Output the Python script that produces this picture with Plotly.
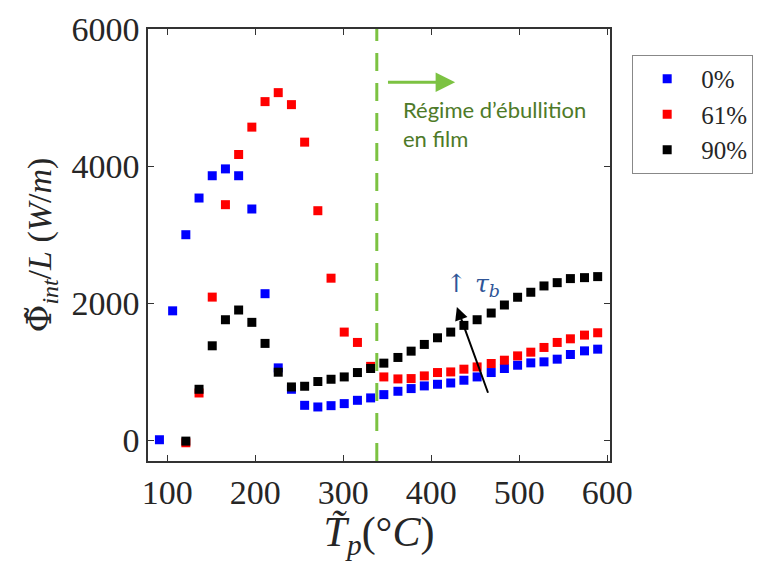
import plotly.graph_objects as go

# ---- data ----
T_blue = [91, 106, 121, 136, 151, 166, 181, 196, 211, 226, 241, 256, 271, 286, 301, 316, 331,
          346, 362, 377, 392, 407, 422, 437, 452, 468, 483, 498, 513, 528, 543, 558, 574, 589]
phi_0 = [10, 1890, 3000, 3535, 3860, 3960, 3860, 3375, 2140, 1058, 746, 512, 488, 507, 537, 585, 620,
         668, 717, 756, 795, 819, 838, 878, 926, 990, 1049, 1097, 1131, 1146, 1185, 1253, 1306, 1331]

T_red = [121, 136, 151, 166, 181, 196, 211, 226, 241, 256, 271, 286, 301, 316, 331,
         346, 362, 377, 392, 407, 422, 437, 452, 468, 483, 498, 513, 528, 543, 558, 574, 589]
phi_61 = [-34, 692, 2090, 3438, 4170, 4569, 4941, 5072, 4897, 4350, 3350, 2366, 1580, 1429, 1080,
          926, 897, 902, 941, 990, 999, 1039, 1072, 1122, 1170, 1233, 1287, 1356, 1429, 1482, 1536, 1570]

T_black = [121, 136, 151, 166, 181, 196, 211, 226, 241, 256, 271, 286, 301, 316, 331,
           346, 362, 377, 392, 407, 422, 437, 452, 468, 483, 498, 513, 528, 543, 558, 574, 589]
phi_90 = [-10, 746, 1380, 1760, 1902, 1722, 1415, 995, 780, 790, 859, 892, 926, 990, 1049,
          1127, 1210, 1302, 1400, 1497, 1580, 1678, 1760, 1858, 1975, 2088, 2161, 2253, 2301, 2360, 2374, 2389]

series_names = ["0%", "61%", "90%"]
x_ticks = [100, 200, 300, 400, 500, 600]
y_ticks = [0, 2000, 4000, 6000]

T_film = 338                      # onset of film boiling (dashed line)
film_arrow = (349, 427, 5222)     # x0, x1, y of green arrow
film_text = (365, 4620)
tau_arrow = (465, 673, 429, 1946)  # tail x,y -> head x,y
tau_text = (447, 2265)

SERIF = "Liberation Serif, Times New Roman, serif"
TXT = "#262626"

fig = go.Figure()
for xs, ys, name, col in [(T_blue, phi_0, series_names[0], "#0000ff"),
                          (T_red, phi_61, series_names[1], "#ff0000"),
                          (T_black, phi_90, series_names[2], "#000000")]:
    fig.add_trace(go.Scatter(x=xs, y=ys, mode="markers", name=name,
                             marker=dict(symbol="square", size=9, color=col, line=dict(width=0))))

fig.add_shape(type="line", x0=T_film, x1=T_film, yref="paper", y0=0, y1=1,
              line=dict(color="#7cc242", width=3, dash="18px,12px"))

fig.add_annotation(x=film_arrow[1], y=film_arrow[2], ax=film_arrow[0], ay=film_arrow[2],
                   xref="x", yref="y", axref="x", ayref="y", text="",
                   showarrow=True, arrowhead=2, arrowsize=1.3, arrowwidth=3, arrowcolor="#7cc242")
fig.add_annotation(x=film_text[0], y=film_text[1], xref="x", yref="y",
                   text="Régime d’ébullition<br>en film", showarrow=False,
                   xanchor="left", yanchor="middle", align="left",
                   font=dict(family="Lato, Open Sans, sans-serif", size=22, color="#4e7a28"))

fig.add_annotation(x=tau_arrow[2], y=tau_arrow[3], ax=tau_arrow[0], ay=tau_arrow[1],
                   xref="x", yref="y", axref="x", ayref="y", text="",
                   showarrow=True, arrowhead=2, arrowsize=1.3, arrowwidth=2, arrowcolor="#000000")
fig.add_annotation(x=tau_text[0], y=tau_text[1], xref="x", yref="y",
                   text="↑ <i>τ</i><sub><i>b</i></sub>", showarrow=False,
                   xanchor="center", yanchor="middle",
                   font=dict(family="DejaVu Serif, serif", size=25, color="#2f5597"))

axis_common = dict(showline=True, linecolor="#333333", linewidth=1.5, mirror="ticks",
                   ticks="inside", ticklen=6, tickcolor="#333333", showgrid=False, zeroline=False,
                   tickfont=dict(family=SERIF, size=34, color=TXT), automargin=False)

fig.update_layout(
    width=760, height=553,
    margin=dict(l=140, r=158, t=21, b=100),
    paper_bgcolor="white", plot_bgcolor="white",
    xaxis=dict(range=[78, 603], tickvals=x_ticks, ticktext=[str(v) for v in x_ticks],
               title=dict(text="<i>T̃</i><sub><i>p</i></sub>(°<i>C</i>)", standoff=6,
                          font=dict(family=SERIF, size=42, color=TXT)),
               **axis_common),
    yaxis=dict(range=[-300, 6000], tickvals=y_ticks, ticktext=[str(v) for v in y_ticks],
               title=dict(text="<span style='font-family:DejaVu Serif'>Φ̃</span><sub><i>int</i></sub>/<i>L</i> (<i>W</i>/<i>m</i>)",
                          standoff=10,
                          font=dict(family=SERIF, size=34, color=TXT)),
               **axis_common),
    showlegend=True,
    legend=dict(x=1.048, y=0.94, xanchor="left", yanchor="top",
                bordercolor="#888888", borderwidth=1, bgcolor="white",
                font=dict(family=SERIF, size=25, color=TXT),
                itemwidth=58, tracegroupgap=0),
)

fig.write_html("out.html")
